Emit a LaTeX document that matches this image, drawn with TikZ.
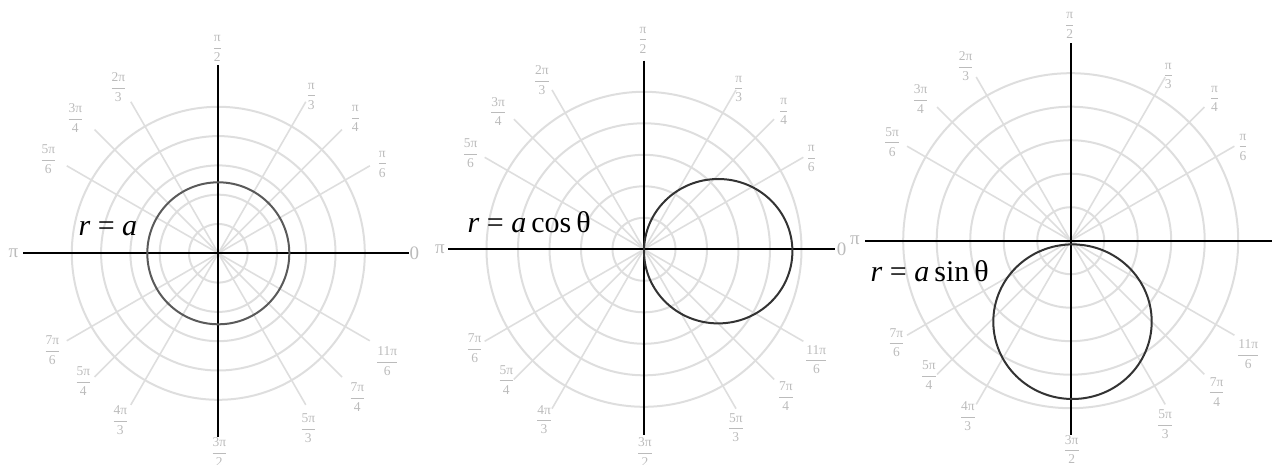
\documentclass[tikz,border=0pt]{standalone}
\usepackage{fontspec}
\setmainfont{Liberation Serif}
\definecolor{gridc}{HTML}{DEDEDE}
\definecolor{labc}{HTML}{BBBBBB}
\definecolor{curvedark}{HTML}{333333}
\definecolor{curvemid}{HTML}{5A5A5A}
\newcommand\fr[2]{$\displaystyle\frac{\hbox{#1}}{\hbox{#2}}$}
\newcommand\gridbody[1]{%
  \foreach \k in {1,...,5} \draw[ring] (0,0) circle ({\k*\ringu});
  \foreach \a in {30,45,60,120,135,150,210,225,240,300,315,330} \draw[spoke] (0,0) -- (\a:\spokel);
  \coordinate (#1c) at (0,0);
  \coordinate (#1L) at (-\axL,0);
  \coordinate (#1R) at (\axR,0);
  \coordinate (#1U) at (0,\axU);
  \coordinate (#1D) at (0,-\axD);
  \draw[axis] (#1L) -- (#1R);
  \draw[axis] (#1U) -- (#1D);
  \node[endlab] (#1pi) at (-\piL,0) {π};
  \node[endlab] (#1zero) at (\zeroR,0) {0};
  \foreach \dx/\dy/\t [count=\i] in {
      164/89/{\fr{π}{6}}, 137/135/{\fr{π}{4}}, 93/157/{\fr{π}{3}}, -1/205/{\fr{π}{2}},
      -100/166/{\fr{2π}{3}}, -143/135/{\fr{3π}{4}}, -170/94/{\fr{5π}{6}},
      -166/-97/{\fr{7π}{6}}, -135/-128/{\fr{5π}{4}}, -98/-167/{\fr{4π}{3}}, 1/-199/{\fr{3π}{2}},
      90/-175/{\fr{5π}{3}}, 139/-144/{\fr{7π}{4}}, 169/-108/{\fr{11π}{6}}}
    \node[anglab] (#1f\i) at ({\labs*\dx},{\labs*\dy}) {\t};
}
\begin{document}
\begin{tikzpicture}[x=1pt,y=1pt,
  ring/.style={draw=gridc, line width=2pt},
  spoke/.style={draw=gridc, line width=1.6pt},
  axis/.style={draw=black, line width=2pt},
  curve/.style={line width=2pt},
  anglab/.style={text=labc, font=\fontsize{13.5}{15}\selectfont, inner sep=0pt},
  endlab/.style={text=labc, font=\fontsize{19}{21}\selectfont, inner sep=0pt},
  eqlab/.style={text=black, font=\fontsize{30}{34}\selectfont, inner sep=0pt, anchor=base west}]
\useasboundingbox (0,0) rectangle (1279,464);
% panel 1
\begin{scope}[shift={(218.3,210.7)}]
  \def\ringu{29.3}\def\spokel{175}\def\labs{1}
  \def\axL{195.3}\def\axR{190.7}\def\axU{188.3}\def\axD{183.7}
  \def\piL{205}\def\zeroR{196}
  \gridbody{A}
  \draw[curve, draw=curvemid] (Ac) circle (71);
\end{scope}
% panel 2
\begin{scope}[shift={(644,214.7)}]
  \def\ringu{31.5}\def\spokel{184}\def\labs{1.02}
  \def\axL{195.7}\def\axR{191}\def\axU{188.6}\def\axD{185.7}
  \def\piL{204}\def\zeroR{197.7}
  \gridbody{B}
  \coordinate (Bcc) at (74.2,-1.9);
  \draw[curve, draw=curvedark] (Bcc) ellipse [x radius=74.2, y radius=72.2];
\end{scope}
% panel 3
\begin{scope}[shift={(1070.7,223.3)}]
  \def\ringu{33.5}\def\spokel{189}\def\labs{1.05}
  \def\axL{205.7}\def\axR{201}\def\axU{197.4}\def\axD{194.3}
  \def\piL{215.7}\def\zeroR{213}
  \gridbody{C}
  \coordinate (Ccc) at (1.8,-81);
  \draw[curve, draw=curvedark] (Ccc) ellipse [x radius=79.2, y radius=77.3];
\end{scope}
\node[eqlab] (eq1) at (78.3,229) {\textit{r} = \textit{a}};
\node[eqlab] (eq2) at (467.5,231.7) {\textit{r} = \textit{a}\,cos\,θ};
\node[eqlab] (eq3) at (870.5,182.3) {\textit{r} = \textit{a}\,sin\,θ};
\end{tikzpicture}
\end{document}
